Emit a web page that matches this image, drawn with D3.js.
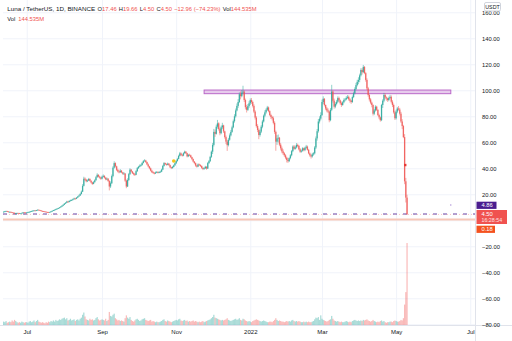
<!DOCTYPE html>
<html>
<head>
<meta charset="utf-8">
<script src="https://cdn.jsdelivr.net/npm/d3@7"></script>
<style>
  html, body { margin: 0; padding: 0; background: #fff; }
  svg { display: block; font-family: "Liberation Sans", Arial, sans-serif; }
</style>
</head>
<body>
<svg id="chart" width="512" height="341"></svg>
<script>
// LUNA/USDT daily candles, 12 Jun 2021 – 10 May 2022 (one row per month)
const firstDay = new Date(2021, 5, 12);
const firstOpen = 6.4;

const closes = [
  6.6, 6.9, 7.1, 6.8, 6.3, 6.5, 6.2, 5.9, 5.8, 5.1, 5.4, 5.6, 5.5, 5.2, 5.3, 5.7, 6.1, 6.0, 5.8,
  6.0, 6.2, 6.5, 6.8, 7.1, 7.4, 7.6, 7.3, 7.8, 8.1, 7.9, 7.5, 7.2, 7.0, 6.8, 6.6, 6.4, 6.3, 6.2, 6.4, 6.9, 7.3, 7.8, 8.1, 8.6, 9.0, 9.4, 9.9, 10.5, 11.2, 11.9,
  12.8, 13.5, 14.4, 14.1, 14.9, 15.3, 15.6, 16.2, 16.8, 16.5, 17.4, 18.3, 19.0, 20.2, 22.0, 26.5, 32.0, 31.2, 30.0, 30.6, 31.8, 30.4, 29.1, 28.0, 29.3, 30.8, 33.1, 35.0, 33.6, 32.9, 32.0,
  33.5, 34.2, 32.8, 31.5, 32.0, 30.2, 26.0, 28.5, 34.0, 40.5, 44.0, 41.5, 38.8, 37.5, 37.0, 38.2, 36.8, 35.9, 36.0, 30.5, 26.0, 31.0, 35.5, 39.0, 37.6, 36.2, 35.4, 35.0, 37.8, 40.1,
  41.2, 42.0, 42.5, 44.1, 45.5, 46.0, 44.8, 43.0, 41.5, 40.0, 38.2, 37.0, 36.5, 36.0, 36.8, 37.2, 36.6, 37.0, 37.4, 39.0, 41.8, 44.0, 43.2, 42.7, 43.6, 42.5, 40.8, 40.1, 41.0, 42.3, 43.9,
  45.6, 47.2, 49.5, 51.5, 50.3, 49.8, 51.6, 52.8, 51.7, 49.2, 50.4, 50.0, 48.6, 47.1, 45.2, 44.0, 42.1, 41.3, 43.0, 42.5, 41.8, 40.3, 39.5, 40.0, 41.2, 39.8, 44.0, 45.5, 48.8, 52.8,
  58.0, 68.0, 66.5, 72.0, 74.6, 70.2, 67.0, 71.5, 73.0, 68.4, 64.0, 60.5, 57.8, 62.0, 65.3, 68.0, 71.5, 76.2, 80.0, 84.5, 88.0, 91.0, 97.0, 95.5, 98.2, 99.0, 92.5, 87.0, 85.0, 87.8, 90.0,
  92.5, 91.0, 88.0, 83.6, 79.0, 72.5, 69.5, 65.6, 68.2, 72.0, 76.0, 80.5, 83.0, 85.0, 86.8, 84.0, 81.0, 79.5, 78.5, 75.0, 68.0, 60.5, 63.0, 63.5, 58.2, 55.4, 53.0, 51.6, 50.0, 48.2, 46.4,
  45.5, 47.8, 50.0, 53.2, 56.7, 55.0, 56.1, 58.0, 57.2, 54.6, 52.8, 53.5, 55.4, 54.0, 55.8, 56.7, 54.2, 51.5, 50.0, 49.1, 50.7, 51.5, 56.0, 63.0, 68.5, 76.0, 78.2, 81.0,
  91.0, 93.5, 88.7, 86.0, 84.5, 83.6, 77.0, 85.0, 99.0, 92.0, 87.4, 89.5, 91.2, 94.0, 92.3, 90.1, 88.7, 90.8, 92.5, 93.0, 94.2, 95.0, 93.1, 92.0, 91.0, 94.8, 97.7, 101.0, 104.0, 106.5, 108.0,
  111.5, 115.6, 114.0, 118.0, 113.2, 108.0, 101.5, 96.4, 93.0, 90.5, 88.7, 82.0, 84.5, 87.4, 85.0, 81.0, 79.2, 77.0, 88.7, 92.0, 96.4, 94.5, 93.8, 92.5, 94.1, 95.0, 91.2, 88.7, 83.0, 78.5,
  83.6, 86.0, 85.2, 82.0, 76.0, 72.5, 64.0, 30.0, 17.46, 4.50
];

const highs = [
  6.9, 7.2, 7.4, 7.3, 6.9, 6.8, 6.7, 6.4, 6.1, 5.9, 5.7, 5.9, 5.8, 5.7, 5.5, 5.9, 6.4, 6.3, 6.2,
  6.3, 6.5, 6.8, 7.1, 7.4, 7.7, 7.9, 7.8, 8.0, 8.4, 8.3, 8.0, 7.7, 7.4, 7.2, 7.0, 6.8, 6.6, 6.5, 6.6, 7.1, 7.5, 8.0, 8.4, 8.9, 9.3, 9.7, 10.2, 10.9, 11.6, 12.4,
  13.3, 14.0, 15.0, 14.9, 15.4, 15.9, 16.2, 16.8, 17.4, 17.3, 17.9, 18.8, 19.7, 20.9, 22.9, 27.8, 33.5, 33.0, 31.9, 31.5, 32.6, 32.3, 30.8, 29.6, 30.1, 31.6, 34.0, 36.2, 35.4, 34.3, 33.5,
  34.4, 35.3, 34.6, 33.2, 32.9, 32.5, 30.9, 29.9, 35.2, 41.6, 45.4, 44.6, 42.0, 39.6, 38.4, 39.4, 38.6, 37.2, 37.1, 36.3, 31.4, 32.3, 36.4, 40.1, 39.4, 38.0, 36.9, 36.3, 38.6, 41.0,
  41.9, 43.0, 43.4, 44.9, 46.4, 47.0, 46.5, 45.2, 43.7, 41.9, 40.6, 38.9, 37.8, 37.1, 37.5, 37.9, 37.6, 37.8, 38.2, 39.7, 42.6, 44.8, 44.4, 43.8, 44.4, 44.0, 42.9, 41.3, 41.8, 42.9, 44.6,
  46.3, 48.0, 50.4, 52.6, 52.2, 51.0, 52.3, 53.6, 53.2, 52.0, 51.1, 51.2, 50.5, 48.9, 47.5, 45.6, 44.5, 42.8, 43.8, 43.6, 43.1, 42.2, 40.8, 40.8, 41.9, 41.6, 44.8, 46.4, 49.6, 53.7,
  59.5, 70.3, 69.8, 73.6, 77.2, 75.4, 71.2, 72.8, 75.0, 73.5, 68.9, 65.2, 61.8, 63.4, 66.8, 69.5, 72.8, 77.5, 81.6, 86.0, 89.9, 93.2, 98.4, 99.1, 100.2, 103.5, 100.0, 93.6, 88.8, 89.4, 91.6,
  93.8, 94.0, 92.0, 89.2, 84.6, 80.1, 73.9, 70.7, 69.8, 73.2, 77.3, 81.4, 84.6, 86.1, 88.0, 87.5, 84.6, 82.0, 80.4, 79.8, 76.2, 69.0, 65.5, 66.0, 64.1, 59.5, 56.8, 54.6, 52.4, 50.9, 48.9,
  47.9, 48.5, 50.9, 54.1, 57.6, 57.9, 57.3, 59.4, 59.0, 58.0, 55.6, 54.4, 56.2, 55.9, 56.6, 58.0, 57.5, 54.9, 52.2, 50.8, 51.9, 52.4, 57.1, 64.5, 70.2, 77.9, 80.0, 83.1,
  92.8, 95.4, 94.0, 89.1, 87.2, 86.1, 84.3, 86.4, 104.2, 99.9, 93.6, 90.8, 92.6, 95.3, 95.1, 92.9, 91.4, 91.6, 93.8, 94.1, 95.5, 96.3, 96.0, 94.0, 92.5, 96.0, 98.9, 102.3, 105.7, 108.1, 110.0,
  112.8, 116.9, 117.0, 119.5, 118.6, 114.0, 109.2, 102.6, 97.1, 94.1, 91.3, 89.2, 85.6, 88.5, 88.1, 85.4, 82.0, 79.8, 89.6, 93.1, 98.0, 97.6, 95.3, 94.4, 95.2, 96.5, 96.1, 92.4, 89.8, 84.2,
  85.1, 87.2, 87.9, 86.5, 83.4, 77.8, 73.4, 66.3, 32.6, 19.66
];

const lows = [
  6.2, 6.4, 6.7, 6.6, 6.1, 6.1, 6.0, 5.7, 5.5, 4.8, 4.9, 5.2, 5.3, 5.0, 5.0, 5.2, 5.6, 5.8, 5.6,
  5.6, 5.8, 6.0, 6.3, 6.6, 6.9, 7.2, 7.1, 7.1, 7.6, 7.7, 7.3, 7.0, 6.8, 6.6, 6.4, 6.2, 6.1, 6.0, 6.0, 6.2, 6.7, 7.1, 7.6, 7.9, 8.4, 8.8, 9.2, 9.7, 10.2, 10.9,
  11.7, 12.5, 13.3, 13.6, 13.8, 14.6, 15.0, 15.3, 15.9, 16.0, 16.3, 17.2, 18.0, 18.8, 19.9, 21.7, 26.0, 30.1, 29.2, 29.4, 30.2, 29.8, 28.4, 27.2, 27.7, 29.0, 30.5, 32.8, 32.9, 32.0, 31.1,
  31.5, 33.0, 32.1, 30.8, 30.9, 29.6, 23.0, 24.8, 27.9, 33.1, 39.8, 40.6, 37.9, 36.8, 36.1, 36.5, 36.2, 35.1, 35.0, 29.6, 24.7, 25.6, 30.2, 34.8, 36.9, 35.6, 34.6, 34.1, 34.7, 37.2,
  39.5, 40.7, 41.3, 42.1, 43.7, 45.1, 44.1, 42.4, 40.7, 39.2, 37.6, 36.4, 35.8, 35.3, 35.6, 36.4, 36.0, 36.2, 36.7, 37.0, 38.6, 41.3, 42.5, 42.0, 42.3, 41.9, 40.2, 39.4, 39.8, 40.6, 41.9,
  43.3, 45.1, 46.8, 49.0, 49.6, 49.0, 49.3, 51.2, 51.0, 48.4, 48.6, 49.3, 47.9, 46.2, 44.5, 43.1, 41.2, 40.5, 40.9, 41.8, 41.0, 39.6, 38.6, 38.9, 39.5, 38.9, 39.5, 43.4, 44.9, 48.0,
  51.0, 56.8, 64.2, 65.9, 70.5, 69.0, 65.4, 66.2, 70.1, 67.2, 62.8, 58.6, 53.4, 56.8, 61.2, 64.5, 67.3, 70.8, 75.1, 79.0, 83.8, 86.5, 90.2, 93.0, 94.6, 96.8, 91.0, 85.3, 82.9, 84.1, 86.5,
  88.7, 89.6, 86.8, 82.4, 77.5, 71.3, 67.8, 62.4, 64.4, 67.1, 70.8, 75.2, 79.3, 82.0, 84.1, 83.1, 80.1, 77.9, 76.8, 73.8, 66.5, 53.5, 58.0, 59.9, 57.0, 53.8, 51.6, 50.3, 48.8, 47.0, 44.5,
  44.2, 44.8, 46.9, 49.2, 52.4, 54.2, 54.3, 55.3, 56.2, 53.8, 51.9, 52.0, 52.8, 53.1, 53.2, 55.0, 53.6, 50.8, 48.9, 47.5, 48.2, 49.7, 50.6, 54.8, 61.3, 67.4, 74.5, 76.9,
  80.2, 89.4, 87.6, 84.7, 83.1, 82.5, 75.4, 76.2, 84.0, 90.5, 85.9, 86.2, 88.4, 90.2, 91.1, 89.0, 87.2, 88.1, 90.0, 91.5, 92.3, 93.4, 92.0, 90.5, 89.6, 90.3, 94.0, 96.8, 100.1, 103.0, 104.7,
  106.2, 110.6, 112.1, 113.2, 112.4, 106.6, 100.2, 95.1, 91.4, 89.3, 86.9, 80.6, 80.9, 83.6, 84.1, 80.2, 77.8, 75.9, 76.3, 86.4, 90.8, 93.1, 92.0, 91.1, 91.6, 93.2, 89.9, 87.1, 82.0, 77.2,
  77.5, 82.4, 84.3, 80.6, 74.9, 70.1, 63.2, 27.8, 13.7, 4.50
];

// daily volume, millions of LUNA
const volumes = [
  6, 5, 7, 4, 5, 6, 5, 8, 6, 9, 7, 5, 4, 5, 4, 6, 5, 4, 5,
  5, 4, 6, 7, 5, 6, 8, 5, 7, 9, 6, 5, 4, 5, 4, 3, 5, 4, 6, 5, 7, 6, 8, 6, 9, 7, 8, 10, 9, 11, 12,
  13, 10, 12, 8, 9, 11, 8, 9, 10, 7, 9, 10, 8, 11, 13, 18, 22, 15, 10, 9, 8, 11, 9, 10, 8, 9, 12, 14, 10, 8, 9,
  10, 9, 8, 11, 7, 9, 23, 16, 15, 18, 20, 12, 10, 8, 9, 7, 8, 7, 6, 12, 17, 13, 11, 14, 9, 7, 6, 8, 10, 11,
  9, 7, 8, 10, 11, 12, 9, 8, 7, 8, 9, 6, 7, 6, 5, 6, 5, 5, 6, 7, 9, 10, 7, 6, 8, 7, 6, 5, 6, 7, 8,
  9, 8, 10, 11, 8, 7, 8, 9, 7, 8, 6, 7, 6, 7, 8, 6, 7, 6, 5, 6, 5, 6, 7, 5, 6, 7, 8, 9, 10, 12,
  14, 18, 13, 12, 11, 10, 9, 8, 9, 8, 9, 10, 12, 9, 8, 7, 8, 9, 10, 11, 9, 10, 12, 9, 8, 11, 10, 8, 7, 6, 7,
  6, 5, 7, 8, 9, 10, 9, 8, 7, 6, 7, 8, 7, 6, 5, 5, 6, 6, 5, 7, 9, 12, 9, 7, 8, 7, 6, 6, 5, 6, 7,
  6, 7, 6, 8, 9, 7, 6, 7, 6, 7, 6, 5, 5, 6, 5, 6, 5, 6, 5, 5, 6, 7, 10, 13, 12, 14, 9, 17,
  11, 9, 8, 7, 6, 7, 9, 10, 16, 11, 8, 7, 6, 7, 6, 5, 6, 5, 5, 6, 7, 6, 5, 6, 5, 7, 8, 9, 8, 7, 8,
  7, 8, 7, 9, 8, 9, 10, 8, 7, 6, 7, 9, 7, 6, 5, 6, 5, 7, 8, 6, 7, 5, 4, 5, 5, 6, 6, 5, 7, 8,
  7, 6, 6, 7, 9, 8, 12, 36, 58, 144.535
];

// price axis ticks (0.00 sits under the level badges, so it is not labelled)
const priceTicks = [-80, -60, -40, -20, 0, 20, 40, 60, 80, 100, 120, 140, 160];
const labelledTicks = priceTicks.filter(t => t !== 0);
const levelLabels = [
  { text: "4.86", price: 4.86, fill: "#4a1d8f" },
  { text: "4.50", sub: "16:28:54", price: 4.50, fill: "#f0524f" },
  { text: "0.18", price: 0.18, fill: "#f4511e" }
];

// drawings on the chart
const resistanceZone = { from: new Date(2021, 10, 24), to: new Date(2022, 5, 15), low: 97.4, high: 100.2 };
const eventDot = { date: new Date(2021, 9, 30), price: 45.6 };
const crashMark = { date: new Date(2022, 4, 8, 12), price: 42.5 };
const stray = { date: new Date(2022, 5, 15), price: 11.8 };

// header legend
const header = {
  symbol: "Luna / TetherUS, 1D, BINANCE",
  o: "17.46", h: "19.66", l: "4.50", c: "4.50",
  change: "\u221212.96 (\u221274.23%)",
  vol: "144.535M"
};

const UP = "#26a69a", DOWN = "#ef5350", TEXT = "#131722", GRID = "#f0f3fa", BORDER = "#e0e3eb";
const plotL = 3, plotR = 475, plotB = 325;
const FS = 5.8;

const svg = d3.select("#chart");

const x = d3.scaleTime()
  .domain([new Date(2021, 5, 1), new Date(2022, 6, 5)])
  .range([-9.75, 475.1]);
const y = d3.scaleLinear().domain([-80, 160]).range([324.3, 12.3]);
const yVol = d3.scaleLinear().domain([0, 144.535]).range([plotB, 243]);

const candles = closes.map((c, i) => {
  const open = i === 0 ? firstOpen : closes[i - 1]; // each daily session opens at the prior close
  return {
    date: d3.timeDay.offset(firstDay, i),
    open, close: c,
    high: Math.max(highs[i], open, c),
    low: Math.min(lows[i], open, c),
    vol: volumes[i]
  };
});
const colorOf = d => d.close >= d.open ? UP : DOWN;

svg.append("defs").append("clipPath").attr("id", "plot")
  .append("rect").attr("x", plotL).attr("y", 0).attr("width", plotR - plotL).attr("height", plotB);

// grid
const gridY = svg.append("g").attr("transform", `translate(${plotR},0)`)
  .call(d3.axisRight(y).tickValues(priceTicks).tickSize(-(plotR - plotL)).tickFormat(""));
gridY.select(".domain").remove();
gridY.selectAll("line").attr("stroke", GRID);

const monthTicks = x.ticks(d3.timeMonth.every(2));
const gridX = svg.append("g").attr("transform", `translate(0,${plotB})`)
  .call(d3.axisBottom(x).tickValues(monthTicks).tickSize(-plotB).tickFormat(""));
gridX.select(".domain").remove();
gridX.selectAll("line").attr("stroke", GRID);

const plot = svg.append("g").attr("clip-path", "url(#plot)");

// volume
plot.append("g").selectAll("rect").data(candles).join("rect")
  .attr("x", d => x(d.date) - 0.6)
  .attr("width", 1.2)
  .attr("y", d => yVol(d.vol))
  .attr("height", d => plotB - yVol(d.vol))
  .attr("fill", colorOf)
  .attr("fill-opacity", 0.4);

// level lines
plot.append("line").attr("x1", plotL).attr("x2", plotR)
  .attr("y1", y(0.18) - 0.5).attr("y2", y(0.18) - 0.5)
  .attr("stroke", "#f7c7b8").attr("stroke-width", 2);
plot.append("line").attr("x1", plotL).attr("x2", plotR)
  .attr("y1", y(4.5)).attr("y2", y(4.5))
  .attr("stroke", DOWN).attr("stroke-opacity", 0.35).attr("stroke-dasharray", "1,2");
plot.append("line").attr("x1", plotL).attr("x2", plotR)
  .attr("y1", y(4.86)).attr("y2", y(4.86))
  .attr("stroke", "#9a83c4").attr("stroke-width", 1.5).attr("stroke-dasharray", "4,6");

// resistance zone
plot.append("rect")
  .attr("x", x(resistanceZone.from)).attr("width", x(resistanceZone.to) - x(resistanceZone.from))
  .attr("y", y(resistanceZone.high)).attr("height", y(resistanceZone.low) - y(resistanceZone.high))
  .attr("fill", "#e1bee7").attr("fill-opacity", 0.8)
  .attr("stroke", "#ba68c8").attr("stroke-width", 1);

// candles
const cg = plot.append("g").selectAll("g").data(candles).join("g");
cg.append("line")
  .attr("x1", d => x(d.date)).attr("x2", d => x(d.date))
  .attr("y1", d => y(d.high)).attr("y2", d => y(d.low))
  .attr("stroke", colorOf)
  .attr("stroke-opacity", 0.5).attr("stroke-width", 1);
cg.append("rect")
  .attr("x", d => x(d.date) - 0.65).attr("width", 1.3)
  .attr("y", d => y(Math.max(d.open, d.close)))
  .attr("height", d => Math.max(0.8, Math.abs(y(d.open) - y(d.close))))
  .attr("fill", colorOf)
  .attr("fill-opacity", 0.8);

// markers
plot.append("circle").attr("cx", x(eventDot.date)).attr("cy", y(eventDot.price)).attr("r", 1.8).attr("fill", "#f9c51b");
plot.append("rect").attr("x", x(crashMark.date) - 1.2).attr("y", y(crashMark.price) - 1.2)
  .attr("width", 2.4).attr("height", 2.4).attr("fill", "#e53935");
plot.append("circle").attr("cx", x(stray.date)).attr("cy", y(stray.price)).attr("r", 0.7).attr("fill", "#a98bd6");

// borders
svg.append("line").attr("x1", plotR + 0.5).attr("x2", plotR + 0.5).attr("y1", 0).attr("y2", 341).attr("stroke", BORDER);
svg.append("line").attr("x1", 0).attr("x2", 512).attr("y1", plotB + 0.5).attr("y2", plotB + 0.5).attr("stroke", BORDER);

// price axis labels
const priceAxis = svg.append("g").attr("transform", `translate(${plotR},0)`)
  .call(d3.axisRight(y).tickValues(labelledTicks).tickSize(0).tickPadding(7)
    .tickFormat(d => d3.format(".2f")(d).replace("-", "\u2212")));
priceAxis.select(".domain").remove();
priceAxis.selectAll("text").attr("fill", TEXT).attr("font-size", FS).attr("font-family", null);

// time axis labels
const timeAxis = svg.append("g").attr("transform", `translate(0,${plotB})`)
  .call(d3.axisBottom(x).tickValues(monthTicks).tickSize(0).tickPadding(5)
    .tickFormat(d => d.getMonth() === 0 ? d3.timeFormat("%Y")(d) : d3.timeFormat("%b")(d)));
timeAxis.select(".domain").remove();
timeAxis.selectAll("text").attr("fill", TEXT).attr("font-size", 6).attr("font-family", null);

// currency badge
svg.append("rect").attr("x", 484.5).attr("y", 2.5).attr("width", 16).attr("height", 8.5).attr("rx", 1.5)
  .attr("fill", "#fff").attr("stroke", "#d1d4dc");
svg.append("text").attr("x", 492.5).attr("y", 9).attr("text-anchor", "middle")
  .attr("font-size", 5.3).attr("fill", TEXT).text("USDT");

// level badges on the price scale
const badgeBoxes = [
  { x: 476.5, y: 201.7, w: 20, h: 7.2 },
  { x: 476.5, y: 210, w: 30.5, h: 14 },
  { x: 476.5, y: 225.7, w: 18.5, h: 7.2 }
];
levelLabels.forEach((lv, i) => {
  const b = badgeBoxes[i];
  svg.append("rect").attr("x", b.x).attr("y", b.y).attr("width", b.w).attr("height", b.h).attr("fill", lv.fill);
  svg.append("text").attr("x", 481.5).attr("y", lv.sub ? b.y + 6.1 : b.y + 5.6)
    .attr("font-size", FS).attr("fill", "#fff").text(lv.text);
  if (lv.sub) {
    svg.append("text").attr("x", 481.5).attr("y", b.y + 12)
      .attr("font-size", 5.3).attr("fill", "#fde3e3").text(lv.sub);
  }
});

// header legend
const h1 = svg.append("text").attr("y", 10.6).attr("font-size", FS).attr("fill", TEXT);
h1.append("tspan").attr("x", 7.3).attr("textLength", 88).attr("lengthAdjust", "spacingAndGlyphs").text(header.symbol);
h1.append("tspan").attr("x", 97.6).text("O");
h1.append("tspan").attr("fill", DOWN).text(header.o);
[["H", header.h], ["L", header.l], ["C", header.c]].forEach(([k, v]) => {
  h1.append("tspan").attr("dx", 2.2).text(k);
  h1.append("tspan").attr("fill", DOWN).text(v);
});
h1.append("tspan").attr("dx", 2.2).attr("fill", DOWN).text(header.change);
h1.append("tspan").attr("dx", 2.2).text("Vol");
h1.append("tspan").attr("fill", DOWN).text(header.vol);

const h2 = svg.append("text").attr("y", 20.6).attr("font-size", FS).attr("fill", TEXT);
h2.append("tspan").attr("x", 7.3).text("Vol");
h2.append("tspan").attr("x", 18.3).attr("fill", DOWN).text(header.vol);
</script>
</body>
</html>
